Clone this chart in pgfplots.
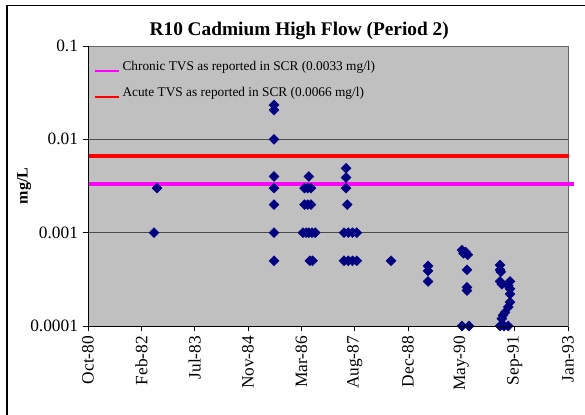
\documentclass[border=0pt]{standalone}
\usepackage{fontspec}
\setmainfont{Liberation Serif}
\usepackage{pgfplots}
\pgfplotsset{compat=1.18}
\definecolor{navy}{HTML}{000080}
\definecolor{plotgray}{HTML}{C0C0C0}
\definecolor{acute}{HTML}{FF0000}
\definecolor{chronic}{HTML}{FF00FF}
\begin{document}
\begin{tikzpicture}
\begin{axis}[
  name=ax,
  at={(66pt,66pt)}, anchor=south west,
  scale only axis, width=360pt, height=210pt,
  ymode=log, xmin=0, xmax=4500, ymin=1e-4, ymax=0.1,
  clip=false,
  axis background/.style={fill=plotgray},
  axis line style={draw=gray!80!black, line width=0.6pt},
  ytick={0.0001,0.001,0.01,0.1},
  yticklabels={0.0001,0.001,0.01,0.1},
  yminorticks=false,
  ymajorgrids, major grid style={black!70, line width=0.6pt},
  xtick={0,500,1000,1500,2000,2500,3000,3500,4000,4500},
  xticklabels={Oct-80,Feb-82,Jul-83,Nov-84,Mar-86,Aug-87,Dec-88,May-90,Sep-91,Jan-93},
  xticklabel style={rotate=90, anchor=east, font=\fontsize{13}{13}\selectfont},
  yticklabel style={font=\fontsize{13}{13}\selectfont},
  tick align=outside, xtick pos=bottom, ytick pos=left,
  major tick length=4pt, tick style={black, line width=0.6pt},
  ylabel={\textbf{mg/L}},
  ylabel style={font=\fontsize{12}{12}\selectfont, at={(axis description cs:-0.133,0.5)}, anchor=center, rotate=0},
  title={\textbf{R10 Cadmium High Flow (Period 2)}},
  title style={font=\fontsize{14.5}{14.5}\selectfont, at={(axis description cs:0.44,1)}, anchor=south, yshift=-5pt},
  legend style={draw=none, fill=none, at={(0.01,0.96)}, anchor=north west, font=\fontsize{10}{10}\selectfont, row sep=7pt, inner sep=1pt},
  legend cell align=left,
  legend image code/.code={\draw[#1] (0pt,-3pt) -- (18pt,-3pt);},
]
\addplot[chronic, line width=3pt, forget plot] coordinates {(0,0.0033) (4560,0.0033)};
\addplot[acute, line width=3pt, forget plot] coordinates {(0,0.0066) (4510,0.0066)};
\addlegendimage{chronic, line width=1.1pt}
\addlegendentry{Chronic TVS as reported in SCR (0.0033 mg/l)}
\addlegendimage{acute, line width=1.1pt}
\addlegendentry{Acute TVS as reported in SCR (0.0066 mg/l)}
\addplot[only marks, mark=square*, mark size=2.6pt, mark options={rotate=45, fill=navy, draw=navy}, forget plot] coordinates {
(619,0.001) (647,0.003)
(1744,0.0233) (1744,0.0206) (1744,0.01) (1744,0.004) (1744,0.003) (1744,0.002) (1744,0.001) (1744,0.0005)
(2070,0.004)
(2030,0.003) (2060,0.003) (2090,0.003)
(2030,0.002) (2060,0.002) (2090,0.002)
(2015,0.001) (2045,0.001) (2070,0.001) (2100,0.001) (2130,0.001)
(2080,0.0005) (2105,0.0005)
(2419,0.0049) (2419,0.0039) (2419,0.003) (2430,0.002)
(2400,0.001) (2440,0.001) (2480,0.001) (2520,0.001)
(2400,0.0005) (2440,0.0005) (2480,0.0005) (2520,0.0005)
(2841,0.0005)
(3188,0.00044) (3188,0.00039) (3188,0.0003)
(3506,0.00065) (3520,0.0006) (3560,0.00058) (3540,0.00062) (3553,0.0004) (3553,0.00026) (3553,0.00024) (3506,0.0001) (3572,0.0001)
(3863,0.00045) (3863,0.0004) (3870,0.00038) (3863,0.0003) (3880,0.00028) (3956,0.0003) (3940,0.00027) (3956,0.00025) (3956,0.00022) (3956,0.00018) (3940,0.00016) (3910,0.00014) (3890,0.00013) (3880,0.00012) (3863,0.0001) (3900,0.0001) (3940,0.0001)
};
\end{axis}
\draw[black, line width=0.6pt] (ax.south west) -- (ax.north west);
\draw[black, line width=0.6pt] (ax.south west) -- (ax.south east);
\draw[black, line width=1pt] (5.25pt,-20pt) -- (5.25pt,306.5pt) -- (460pt,306.5pt);
\pgfresetboundingbox
\useasboundingbox (0,0) rectangle (438.75pt,310.5pt);
\end{tikzpicture}
\end{document}
